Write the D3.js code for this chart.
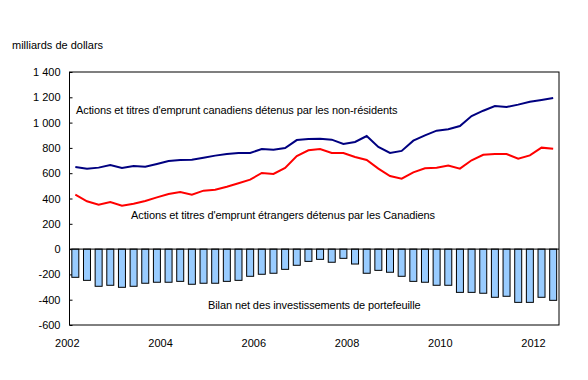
<!DOCTYPE html>
<html>
<head>
<meta charset="utf-8">
<script src="https://cdn.jsdelivr.net/npm/d3@7"></script>
<style>
  body { margin: 0; background: #fff; }
  text { font-family: "Liberation Sans", Arial, sans-serif; font-size: 11px; fill: #000; }
</style>
</head>
<body>
<div id="chart"></div>
<script>
// quarterly, 2002 Q1 to 2012 Q2
const years = d3.range(2002, 2013);
const quarters = years.flatMap(y => [1, 2, 3, 4].map(q => y + "Q" + q)).slice(0, 42);

// billions of dollars
const nonResidents = [649, 636, 644, 665, 641, 657, 651, 673, 696, 704, 707, 723, 739, 752, 760, 760,
  791, 786, 799, 862, 870, 873, 865, 831, 847, 894, 807, 760, 776, 857, 899, 936,
  947, 973, 1052, 1094, 1131, 1123, 1142, 1165, 1179, 1194];
const canadians = [430, 378, 351, 372, 343, 359, 380, 409, 436, 451, 430, 462, 470, 493, 520, 549,
  602, 594, 641, 736, 781, 791, 760, 760, 728, 704, 636, 578, 557, 607, 639, 644,
  660, 636, 702, 746, 752, 752, 715, 741, 802, 794];
const netBalance = [-223, -247, -294, -286, -302, -294, -270, -262, -262, -255, -278, -270, -270, -255, -247, -215,
  -199, -191, -160, -128, -97, -81, -104, -73, -118, -191, -168, -183, -215, -255, -262, -286,
  -286, -342, -342, -349, -381, -373, -421, -421, -381, -405];

const yTicks = [-600, -400, -200, 0, 200, 400, 600, 800, 1000, 1200, 1400];
const xLabels = ["2002", "2004", "2006", "2008", "2010", "2012"];

const width = 588, height = 380;
const margin = {top: 72, right: 29, bottom: 55, left: 69.5};

const svg = d3.select("#chart").append("svg")
    .attr("width", width)
    .attr("height", height);

const x = d3.scaleBand()
    .domain(quarters)
    .range([margin.left, width - margin.right])
    .paddingInner(0.4)
    .paddingOuter(0.2);

const y = d3.scaleLinear()
    .domain([-600, 1400])
    .range([height - margin.bottom, margin.top]);

svg.append("text")
    .attr("x", 12)
    .attr("y", 49)
    .text("milliards de dollars");

// y axis: inner ticks, labels with space as thousands separator
svg.append("g")
    .attr("transform", `translate(${margin.left},0)`)
    .call(d3.axisLeft(y).tickValues(yTicks).tickSize(-3).tickPadding(9)
      .tickFormat(v => d3.format(",")(v).replace(",", " ").replace("−", "-")))
    .call(g => g.select(".domain").remove())
    .call(g => g.selectAll("line").attr("stroke", "#000"))
    .call(g => g.selectAll("text").style("font-size", "11px"));

// bars
svg.append("g")
  .selectAll("rect")
  .data(netBalance)
  .join("rect")
    .attr("x", (d, i) => x(quarters[i]))
    .attr("y", d => Math.min(y(d), y(0)))
    .attr("width", x.bandwidth())
    .attr("height", d => Math.abs(y(d) - y(0)))
    .attr("fill", "#99ccff")
    .attr("stroke", "#000")
    .attr("stroke-width", 1);

// zero line
svg.append("line")
    .attr("x1", margin.left).attr("x2", width - margin.right)
    .attr("y1", y(0)).attr("y2", y(0))
    .attr("stroke", "#000");

const line = d3.line()
    .x((d, i) => x(quarters[i]) + x.bandwidth() / 2)
    .y(d => y(d));

svg.append("path")
    .datum(nonResidents)
    .attr("fill", "none")
    .attr("stroke", "#000080")
    .attr("stroke-width", 2)
    .attr("d", line);

svg.append("path")
    .datum(canadians)
    .attr("fill", "none")
    .attr("stroke", "#ff0000")
    .attr("stroke-width", 2)
    .attr("d", line);

// frame
svg.append("rect")
    .attr("x", margin.left)
    .attr("y", margin.top)
    .attr("width", width - margin.right - margin.left)
    .attr("height", height - margin.bottom - margin.top)
    .attr("fill", "none")
    .attr("stroke", "#000");

// x labels, at the first quarter of each even year
svg.append("g")
  .selectAll("text")
  .data(xLabels)
  .join("text")
    .attr("x", d => x(d + "Q1") + x.bandwidth() / 2 - 8)
    .attr("y", 347)
    .attr("text-anchor", "middle")
    .text(d => d);

// series labels
svg.append("text")
    .attr("x", 76).attr("y", 114)
    .style("letter-spacing", "-0.1px")
    .text("Actions et titres d'emprunt canadiens détenus par les non-résidents");

svg.append("text")
    .attr("x", 131).attr("y", 219)
    .style("letter-spacing", "-0.1px")
    .text("Actions et titres d'emprunt étrangers détenus par les Canadiens");

svg.append("text")
    .attr("x", 208).attr("y", 309)
    .style("letter-spacing", "-0.1px")
    .text("Bilan net des investissements de portefeuille");
</script>
</body>
</html>
